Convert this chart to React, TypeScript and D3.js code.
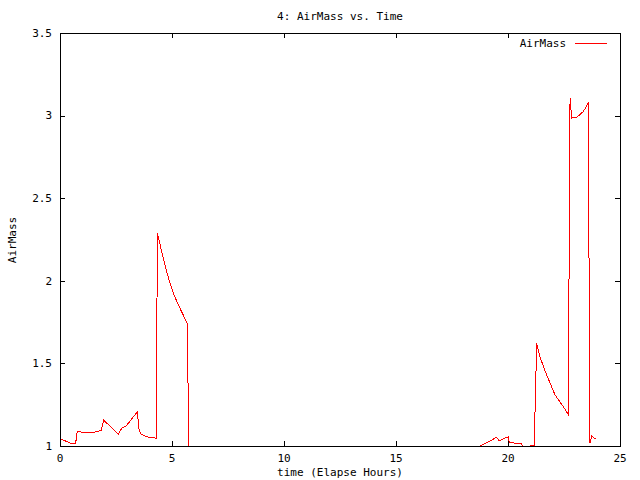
import React, { useEffect, useRef } from "react";
import * as d3 from "d3";

// elapsed hours and air mass (values below 1 fall outside and get clipped)
const hours = [
  0, 0.15, 0.45, 0.7, 0.77, 1.12, 1.49, 1.83, 1.95, 2.6, 2.75, 2.95, 3.45, 3.53, 3.62, 3.87, 4.29,
  4.35, 4.55, 4.76, 4.95, 5.06, 5.3, 5.5, 5.68, 5.8,
  18.6, 18.83, 19.2, 19.49, 19.6, 20.01, 20.06, 20.3, 20.57, 20.64, 20.85, 21.03, 21.17,
  21.28, 21.43, 21.61, 21.88, 22.1, 22.47, 22.69, 22.77, 22.84, 23.07, 23.36, 23.58,
  23.66, 23.74, 23.84, 23.93,
];
const airMass = [
  1.042, 1.036, 1.018, 1.018, 1.091, 1.079, 1.083, 1.093, 1.157, 1.071, 1.107, 1.121, 1.206, 1.097, 1.071, 1.056, 1.047,
  2.288, 2.17, 2.055, 1.97, 1.924, 1.85, 1.793, 1.743, 0.5,
  0.98, 1.006, 1.03, 1.053, 1.032, 1.056, 1.02, 1.018, 1.018, 1.004, 0.95, 1.004, 1.004,
  1.622, 1.54, 1.47, 1.38, 1.309, 1.238, 1.192, 3.105, 2.985, 2.99, 3.024, 3.075,
  1.02, 1.06, 1.047, 1.047,
];
const xTicks = [0, 5, 10, 15, 20, 25];
const yTicks = [1, 1.5, 2, 2.5, 3, 3.5];

const title = "4: AirMass vs. Time";
const xLabel = "time (Elapse Hours)";
const yLabel = "AirMass";
const seriesName = "AirMass";

export default function App() {
  const ref = useRef<SVGSVGElement>(null);

  useEffect(() => {
    document.body.style.margin = "0";
    const svg = d3.select(ref.current);
    svg.selectAll("*").remove();

    const left = 60, right = 620, top = 33, bottom = 446;
    const font = "'DejaVu Sans Mono', monospace";
    const fs = 11;
    const tick = 5;

    const x = d3.scaleLinear().domain([0, 25]).range([left, right]);
    const y = d3.scaleLinear().domain([1, 3.5]).range([bottom, top]);

    svg.append("defs").append("clipPath").attr("id", "plotclip")
      .append("rect").attr("x", left).attr("y", top)
      .attr("width", right - left).attr("height", bottom - top);

    // data line, aliased like the original bitmap output
    const pts: [number, number][] = hours.map((h, i) => [h, airMass[i]]);
    const line = d3.line<[number, number]>().x(d => x(d[0])).y(d => y(d[1]));
    svg.append("path")
      .datum(pts)
      .attr("clip-path", "url(#plotclip)")
      .attr("d", line)
      .attr("fill", "none")
      .attr("stroke", "#ff0000")
      .attr("stroke-width", 1)
      .attr("shape-rendering", "crispEdges");

    const axes = svg.append("g").attr("stroke", "#000").attr("stroke-width", 1)
      .attr("shape-rendering", "crispEdges");

    // ticks, mirrored on all sides
    xTicks.forEach(t => {
      const px = Math.round(x(t)) + 0.5;
      axes.append("line").attr("x1", px).attr("x2", px).attr("y1", bottom).attr("y2", bottom - tick);
      axes.append("line").attr("x1", px).attr("x2", px).attr("y1", top).attr("y2", top + tick);
    });
    yTicks.forEach(t => {
      const py = Math.round(y(t)) + 0.5;
      axes.append("line").attr("x1", left).attr("x2", left + tick).attr("y1", py).attr("y2", py);
      axes.append("line").attr("x1", right).attr("x2", right - tick).attr("y1", py).attr("y2", py);
    });

    axes.append("rect")
      .attr("x", left + 0.5).attr("y", top + 0.5)
      .attr("width", right - left).attr("height", bottom - top)
      .attr("fill", "none");

    const txt = svg.append("g").attr("font-family", font).attr("font-size", fs).attr("fill", "#000");

    xTicks.forEach(t => {
      txt.append("text").attr("x", x(t)).attr("y", bottom + 16)
        .attr("text-anchor", "middle").text(String(t));
    });
    yTicks.forEach(t => {
      txt.append("text").attr("x", left - 8).attr("y", y(t)).attr("dy", "0.35em")
        .attr("text-anchor", "end").text(String(t));
    });

    txt.append("text").attr("x", 340).attr("y", 20).attr("text-anchor", "middle").text(title);
    txt.append("text").attr("x", 340).attr("y", 476).attr("text-anchor", "middle").text(xLabel);
    txt.append("text")
      .attr("transform", `translate(16,240) rotate(-90)`)
      .attr("text-anchor", "middle").text(yLabel);

    // legend
    txt.append("text").attr("x", 566).attr("y", 43).attr("dy", "0.35em")
      .attr("text-anchor", "end").text(seriesName);
    svg.append("line").attr("x1", 575).attr("x2", 607).attr("y1", 43.5).attr("y2", 43.5)
      .attr("stroke", "#ff0000").attr("stroke-width", 1).attr("shape-rendering", "crispEdges");
  }, []);

  return <svg ref={ref} width={640} height={480} style={{ display: "block", background: "#fff" }} />;
}
